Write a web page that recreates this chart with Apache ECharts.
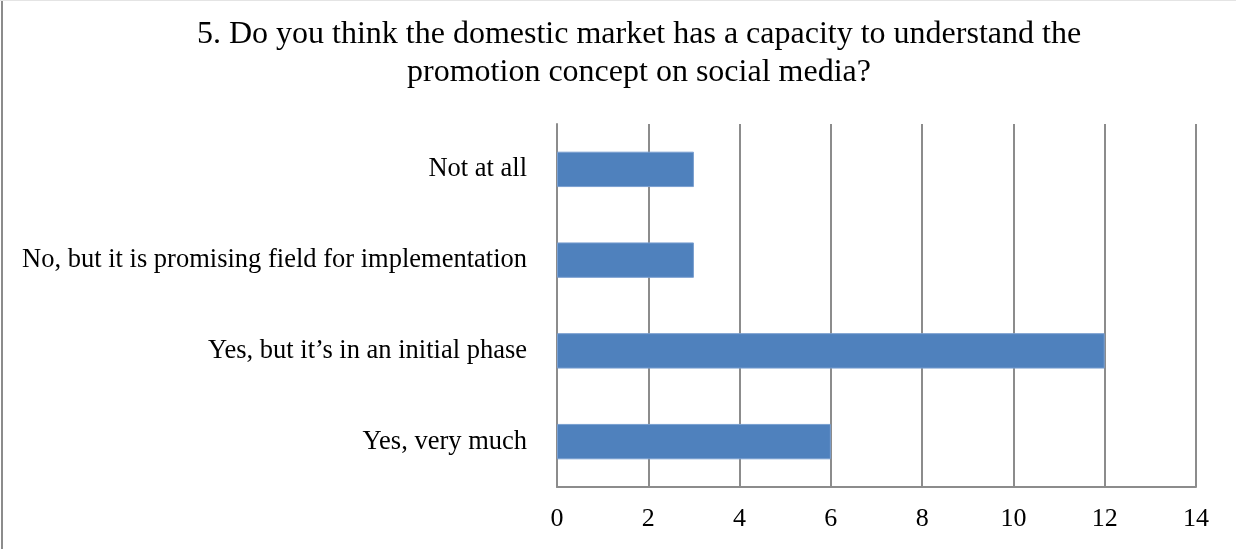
<!DOCTYPE html>
<html>
<head>
<meta charset="utf-8">
<script src="https://cdn.jsdelivr.net/npm/echarts@6/dist/echarts.min.js"></script>
<style>
  html, body { margin: 0; padding: 0; background: #ffffff; }
  #chart { width: 1236px; height: 549px; }
</style>
</head>
<body>
<div id="chart"></div>
<script>
// Survey answers, listed bottom to top as drawn on the category axis
const categories = [
  'Yes, very much',
  'Yes, but it\u2019s in an initial phase',
  'No, but it is promising field for implementation',
  'Not at all'
];
const responses = [6, 12, 3, 3];
const xTicks = { min: 0, max: 14, interval: 2 };

const serif = '"Liberation Serif", "DejaVu Serif", serif';
const gridColor = '#8c8c8c';

const chart = echarts.init(document.getElementById('chart'), null, { renderer: 'canvas' });
chart.setOption({
  backgroundColor: '#ffffff',
  animation: false,
  title: {
    text: '5. Do you think the domestic market has a capacity to understand the\npromotion concept on social media?',
    left: 634,
    top: 11,
    textAlign: 'center',
    textStyle: {
      fontFamily: serif,
      fontWeight: 'normal',
      fontSize: 32,
      lineHeight: 38,
      color: '#000000'
    }
  },
  grid: { left: 557, right: 40, top: 124, bottom: 62, containLabel: false },
  xAxis: {
    type: 'value',
    min: xTicks.min,
    max: xTicks.max,
    interval: xTicks.interval,
    axisLine: { show: true, lineStyle: { color: gridColor, width: 2 } },
    axisTick: { show: false },
    axisLabel: { fontFamily: serif, fontSize: 26, color: '#000000', margin: 19 },
    splitLine: { show: true, lineStyle: { color: gridColor, width: 2 } }
  },
  yAxis: {
    type: 'category',
    data: categories,
    axisLine: { show: true, lineStyle: { color: gridColor, width: 2 } },
    axisTick: { show: false },
    axisLabel: { fontFamily: serif, fontSize: 26.5, color: '#000000', margin: 30 }
  },
  series: [{
    type: 'bar',
    data: responses,
    barWidth: '39%',
    itemStyle: { color: '#4f81bd', borderColor: '#7a9fd0', borderWidth: 1 }
  }],
  graphic: [
    { type: 'line', shape: { x1: 2, y1: 0, x2: 2, y2: 549 }, style: { stroke: '#8c8c8c', lineWidth: 2 } },
    { type: 'line', shape: { x1: 0, y1: 0.5, x2: 1236, y2: 0.5 }, style: { stroke: '#e4e4e4', lineWidth: 1 } }
  ]
});
</script>
</body>
</html>
